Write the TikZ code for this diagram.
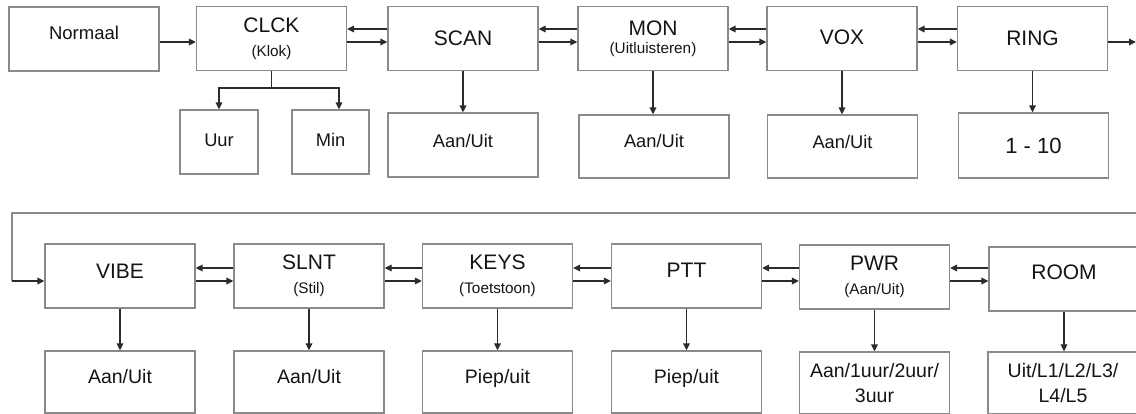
\documentclass[tikz,border=0pt]{standalone}
\usepackage{fontspec}
\setmainfont{Liberation Sans}
\usetikzlibrary{arrows.meta,calc}
\definecolor{boxgray}{HTML}{8A8A8A}
\definecolor{arrdark}{HTML}{2B2B2B}
\begin{document}
\begin{tikzpicture}[x=1pt,y=-1pt,
  box/.style={draw=boxgray,line width=1.2pt,minimum width=150pt,minimum height=64pt,inner sep=0pt,align=center,text=black!92},
  mainf/.style={font=\fontsize{21}{24}\selectfont},
  childf/.style={font=\fontsize{18.3}{22}\selectfont},
  childg/.style={font=\fontsize{19.5}{25}\selectfont},
  arr/.style={draw=arrdark,line width=1.8pt,-{Triangle[length=7pt,width=6.5pt]}},
  ln/.style={draw=arrdark,line width=1.8pt},
  loopln/.style={draw=boxgray,line width=1.2pt}]
\newcommand{\subl}[1]{{\fontsize{15.3}{24}\selectfont #1}}
\useasboundingbox (0,0) rectangle (1136,414);
% top row
\node[box,font=\fontsize{18.5}{22}\selectfont,text depth=12pt] (normaal) at (84,39) {Normaal};
\node[box,mainf] (clck) at (271.5,38.5) {CLCK\\\subl{(Klok)}};
\node[box,mainf] (scan) at (463,38.5) {SCAN};
\node[box,mainf] (mon) at (653,38.5) {MON\\[-6pt]\subl{(Uitluisteren)}};
\node[box,mainf,text depth=3pt] (vox) at (842,38.5) {VOX};
\node[box,mainf] (ring) at (1032.5,38.5) {RING};
% top children
\node[box,childf,minimum width=78pt,text depth=4pt] (uur) at (219,142) {Uur};
\node[box,childf,minimum width=77pt,text depth=4pt] (min) at (330.5,142) {Min};
\node[box,childf,text depth=9pt] (scanc) at (463,145) {Aan/Uit};
\node[box,childf,minimum height=63pt,text depth=11pt] (monc) at (654,146.5) {Aan/Uit};
\node[box,childf,minimum height=63pt,text depth=10pt] (voxc) at (842.5,146.5) {Aan/Uit};
\node[box,font=\fontsize{22}{24}\selectfont,minimum height=65pt] (ringc) at (1033.5,145.5) {1 - 10};
% bottom row
\node[box,mainf,text depth=9pt] (vibe) at (120,276) {VIBE};
\node[box,mainf] (slnt) at (309,276) {SLNT\\\subl{(Stil)}};
\node[box,mainf] (keys) at (497.5,276) {KEYS\\\subl{(Toetstoon)}};
\node[box,mainf,text depth=11pt] (ptt) at (686.5,276) {PTT};
\node[box,mainf] (pwr) at (874.5,277) {PWR\\\subl{(Aan/Uit)}};
\node[box,mainf,text depth=13pt] (room) at (1064,279) {ROOM};
% bottom children
\node[box,childg,minimum height=62pt,text depth=12pt] (vibec) at (120,382) {Aan/Uit};
\node[box,childg,minimum height=62pt,text depth=12pt] (slntc) at (309,382) {Aan/Uit};
\node[box,childg,minimum height=62pt,text depth=12pt] (keysc) at (497.5,382) {Piep/uit};
\node[box,childg,minimum height=62pt,text depth=12pt] (pttc) at (686.5,382) {Piep/uit};
\node[box,childg,minimum height=62pt] (pwrc) at (874.5,383) {Aan/1uur/2uur/\\3uur};
\node[box,childg,minimum height=62pt] (roomc) at (1063,383) {Uit/L1/L2/L3/\\L4/L5};
% helper coordinates
\coordinate (tl) at (0,29);
\coordinate (tr) at (0,42);
\coordinate (bl) at (0,268);
\coordinate (brr) at (0,281);
\coordinate (br) at (271.5,88);
\coordinate (edgeR) at (1136,42);
\coordinate (lpR) at (1136,213);
\coordinate (lpL) at (12,213);
\coordinate (lpB) at (12,281);
% top connectors
\draw[arr] (normaal.east |- tr) -- (clck.west |- tr);
\foreach \a/\b in {clck/scan,scan/mon,mon/vox,vox/ring}{
  \draw[arr] (\b.west |- tl) -- (\a.east |- tl);
  \draw[arr] (\a.east |- tr) -- (\b.west |- tr);
}
\draw[arr] (ring.east |- tr) -- (edgeR);
\draw[ln] (clck.south) -- (br);
\draw[arr] (br) -| (uur.north);
\draw[arr] (br) -| ([xshift=8.5pt]min.north);
\foreach \p in {scan,mon,vox,ring}{
  \draw[arr] (\p.south) -- (\p.south |- \p c.north);
}
% loop
\draw[loopln] (lpR) -- (lpL) -- (lpB);
\draw[arr] (lpB) -- (vibe.west |- lpB);
% bottom connectors
\foreach \a/\b in {vibe/slnt,slnt/keys,keys/ptt,ptt/pwr,pwr/room}{
  \draw[arr] (\b.west |- bl) -- (\a.east |- bl);
  \draw[arr] (\a.east |- brr) -- (\b.west |- brr);
}
\foreach \p in {vibe,slnt,keys,ptt,pwr,room}{
  \draw[arr] (\p.south) -- (\p.south |- \p c.north);
}
\end{tikzpicture}
\end{document}
